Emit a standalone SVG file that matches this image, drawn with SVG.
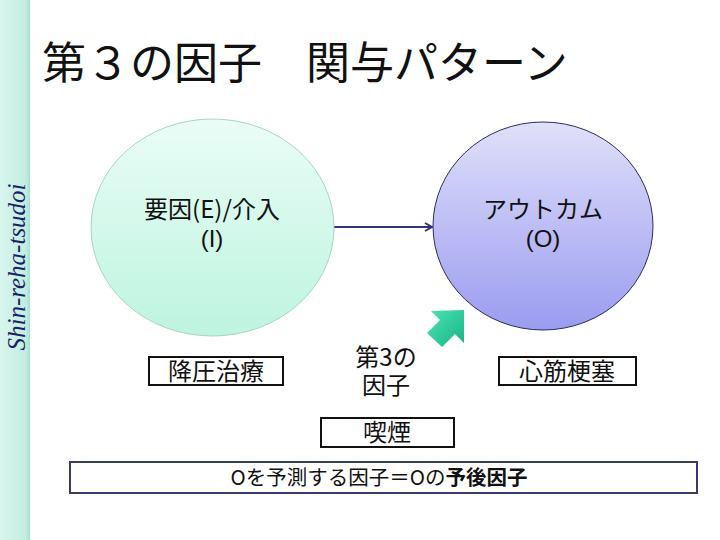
<svg xmlns="http://www.w3.org/2000/svg" width="720" height="540" viewBox="0 0 720 540">
<style>
  .jp { font-family: "Noto Sans CJK JP", "Noto Sans", sans-serif; fill: #111; }
  .lat { font-family: "Liberation Sans", Arial, sans-serif; fill: #111; }
  .lbl { font-size: 24px; text-anchor: middle; }
  .box { fill: #fff; stroke: #111; stroke-width: 2; }
  .conn { stroke: #333380; stroke-width: 2; fill: none; }
</style>
<defs>
  <linearGradient id="gBar" x1="0" y1="0" x2="1" y2="0">
    <stop offset="0" stop-color="#d8f6ee"/>
    <stop offset="0.85" stop-color="#c2eee1"/>
    <stop offset="1" stop-color="#a9dfcf"/>
  </linearGradient>
  <linearGradient id="gLeft" x1="0" y1="0" x2="0" y2="1">
    <stop offset="0" stop-color="#eafdf6"/>
    <stop offset="1" stop-color="#bdf4e0"/>
  </linearGradient>
  <linearGradient id="gRight" x1="0" y1="0" x2="0" y2="1">
    <stop offset="0" stop-color="#e0e0fa"/>
    <stop offset="1" stop-color="#9a9cf0"/>
  </linearGradient>
  <linearGradient id="gArrow" x1="0" y1="0" x2="1" y2="1">
    <stop offset="0" stop-color="#4ee3b5"/>
    <stop offset="1" stop-color="#14b585"/>
  </linearGradient>
  <marker id="open" markerWidth="10" markerHeight="10" refX="8" refY="5" orient="auto" markerUnits="userSpaceOnUse">
    <path d="M1,1 L8,5 L1,9" fill="none" stroke="#333380" stroke-width="2"/>
  </marker>
</defs>

<rect x="0" y="0" width="720" height="540" fill="#ffffff"/>

<g id="sidebar">
  <rect x="0" y="0" width="30" height="540" fill="url(#gBar)"/>
  <text transform="translate(25,267) rotate(-90)" text-anchor="middle" font-family="Liberation Serif, serif" font-style="italic" font-size="25" fill="#1e1e66">Shin-reha-tsudoi</text>
</g>

<g id="title">
  <text class="jp" x="42" y="79" font-size="44">第３の因子　関与パターン</text>
</g>

<g id="connectors">
  <line class="conn" x1="334" y1="227" x2="432" y2="227" marker-end="url(#open)"/>
  <polygon id="third-factor-arrow" points="464,310 431,311 440,320 427,333 442,347 455,334 464,343" fill="url(#gArrow)"/>
</g>

<g id="node-exposure">
  <ellipse cx="212.5" cy="227.5" rx="121.5" ry="108.5" fill="url(#gLeft)" stroke="#a6d6c2" stroke-width="1"/>
  <text class="jp lbl" x="212" y="218">要因(E)/介入</text>
  <text class="lat lbl" x="212" y="247">(I)</text>
</g>

<g id="node-outcome">
  <ellipse cx="543" cy="226" rx="110" ry="104" fill="url(#gRight)" stroke="#2c2c5e" stroke-width="1"/>
  <text class="jp lbl" x="543" y="218">アウトカム</text>
  <text class="lat lbl" x="543" y="247">(O)</text>
</g>

<g id="node-treatment">
  <rect class="box" x="149" y="357" width="134" height="28"/>
  <text class="jp lbl" x="216" y="380">降圧治療</text>
</g>

<g id="node-third">
  <text class="jp lbl" x="386" y="366">第3の</text>
  <text class="jp lbl" x="386" y="394">因子</text>
</g>

<g id="node-mi">
  <rect class="box" x="499" y="357" width="137" height="28"/>
  <text class="jp lbl" x="567" y="380">心筋梗塞</text>
</g>

<g id="node-smoking">
  <rect class="box" x="321" y="418" width="133" height="29"/>
  <text class="jp lbl" x="387" y="441">喫煙</text>
</g>

<g id="note">
  <rect x="70" y="462" width="627" height="31" fill="#fff" stroke="#3a3a6c" stroke-width="2"/>
  <text class="jp" x="379" y="485" font-size="20.5" text-anchor="middle">Oを予測する因子＝Oの<tspan font-weight="bold">予後因子</tspan></text>
</g>
</svg>
